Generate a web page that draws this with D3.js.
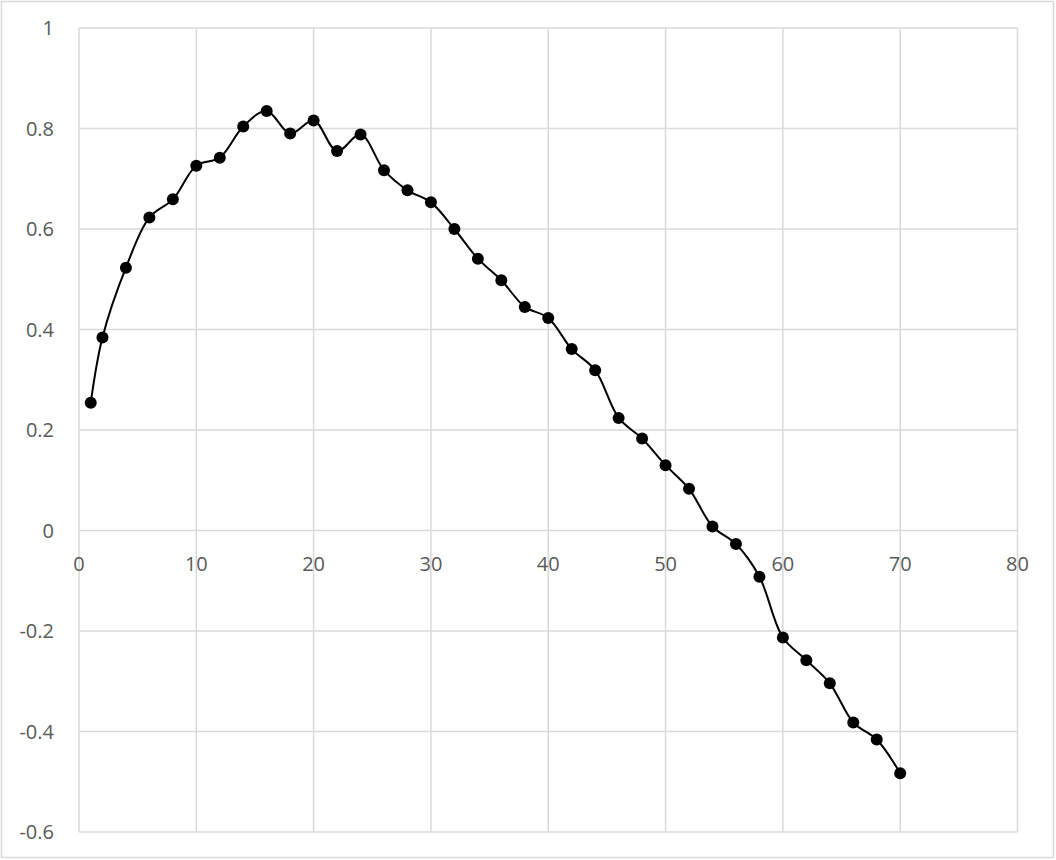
<!DOCTYPE html>
<html><head><meta charset="utf-8">
<script src="https://cdn.jsdelivr.net/npm/d3@7"></script>
<style>
html,body{margin:0;padding:0;background:#fff;}
svg{display:block;}
text{font-family:"Open Sans",sans-serif;}
</style></head>
<body>
<svg id="chart" width="1056" height="860"></svg>
<script>
const xValues = [1,2,4,6,8,10,12,14,16,18,20,22,24,26,28,30,32,34,36,38,40,42,44,46,48,50,52,54,56,58,60,62,64,66,68,70];
const yValues = [0.254,0.384,0.523,0.623,0.659,0.726,0.742,0.804,0.835,0.790,0.816,0.755,0.788,0.717,0.677,0.653,0.600,0.541,0.498,0.445,0.423,0.361,0.319,0.224,0.183,0.130,0.083,0.008,-0.027,-0.092,-0.213,-0.258,-0.304,-0.382,-0.416,-0.483];
const xTicks = [0,10,20,30,40,50,60,70,80];
const yTicks = [-0.6,-0.4,-0.2,0,0.2,0.4,0.6,0.8,1];

const svg = d3.select("#chart");
const W = 1056, H = 860;
const mLeft = 79, mRight = 1017.5, mTop = 28, mBottom = 832;

svg.append("rect").attr("x",1.5).attr("y",1.5).attr("width",W-4).attr("height",H-4)
  .attr("fill","#fff").attr("stroke","#d9d9d9").attr("stroke-width",1.5);

const x = d3.scaleLinear().domain([0,80]).range([mLeft,mRight]);
const y = d3.scaleLinear().domain([-0.6,1]).range([mBottom,mTop]);

const grid = svg.append("g");
grid.selectAll("line.v").data(xTicks).join("line").attr("class","v")
  .attr("x1",d=>x(d)).attr("x2",d=>x(d)).attr("y1",y(1)).attr("y2",y(-0.6))
  .attr("stroke","#d9d9d9").attr("stroke-width",1.5);
grid.selectAll("line.h").data(yTicks).join("line").attr("class","h")
  .attr("y1",d=>y(d)).attr("y2",d=>y(d)).attr("x1",x(0)).attr("x2",x(80))
  .attr("stroke","#d9d9d9").attr("stroke-width",1.5);

const fmt = d => (Math.round(d*10)/10).toString();
svg.append("g").selectAll("text").data(yTicks).join("text")
  .attr("x",54).attr("y",d=>y(d)).attr("dy","0.35em").attr("text-anchor","end")
  .attr("font-size",20).attr("fill","#595959").text(fmt);
svg.append("g").selectAll("text").data(xTicks).join("text")
  .attr("x",d=>x(d)).attr("y",y(0)+33).attr("dy","0.35em").attr("text-anchor","middle")
  .attr("font-size",20).attr("fill","#595959").text(d=>d);

const pts = xValues.map((v,i)=>[v,yValues[i]]);
const line = d3.line().x(d=>x(d[0])).y(d=>y(d[1])).curve(d3.curveCatmullRom.alpha(0.5));
svg.append("path").datum(pts).attr("d",line).attr("fill","none")
  .attr("stroke","#000").attr("stroke-width",2);
svg.append("g").selectAll("circle").data(pts).join("circle")
  .attr("cx",d=>x(d[0])).attr("cy",d=>y(d[1])).attr("r",6).attr("fill","#000");
</script>
</body></html>
